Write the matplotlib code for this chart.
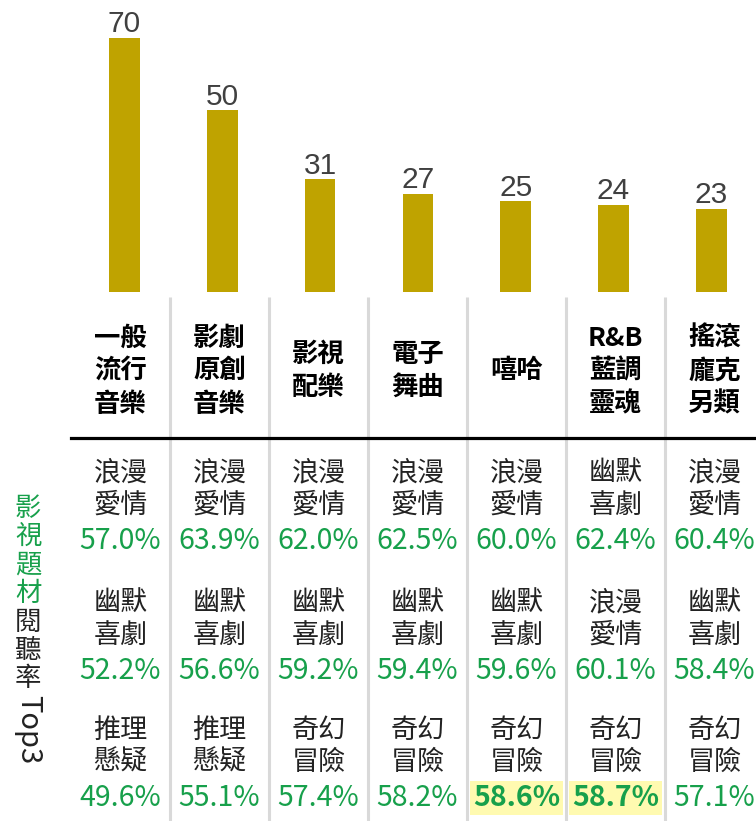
import numpy as np
import matplotlib
matplotlib.use("Agg")
import matplotlib.pyplot as plt

plt.rcParams['font.family'] = ['Noto Sans CJK TC', 'DejaVu Sans']

# ================== DATA ==================
categories = ["一般\n流行\n音樂", "影劇\n原創\n音樂", "影視\n配樂", "電子\n舞曲",
              "嘻哈", "R&B\n藍調\n靈魂", "搖滾\n龐克\n另類"]
counts = [70, 50, 31, 27, 25, 24, 23]

top1_genre = ["浪漫\n愛情", "浪漫\n愛情", "浪漫\n愛情", "浪漫\n愛情", "浪漫\n愛情", "幽默\n喜劇", "浪漫\n愛情"]
top1_rate = [57.0, 63.9, 62.0, 62.5, 60.0, 62.4, 60.4]
top2_genre = ["幽默\n喜劇", "幽默\n喜劇", "幽默\n喜劇", "幽默\n喜劇", "幽默\n喜劇", "浪漫\n愛情", "幽默\n喜劇"]
top2_rate = [52.2, 56.6, 59.2, 59.4, 59.6, 60.1, 58.4]
top3_genre = ["推理\n懸疑", "推理\n懸疑", "奇幻\n冒險", "奇幻\n冒險", "奇幻\n冒險", "奇幻\n冒險", "奇幻\n冒險"]
top3_rate = [49.6, 55.1, 57.4, 58.2, 58.6, 58.7, 57.1]
highlight = [(2, 4), (2, 5)]  # (row, col)

side_green = "影視題材"
side_black = "閱聽率"
side_latin = "Top3"
# ==========================================

BAR = "#bfa300"
GREEN = "#17a04b"
SEP = "#d9d9d9"

W, H = 756, 821
fig = plt.figure(figsize=(W / 100, H / 100), dpi=100)

# overlay in pixel coordinates
ax0 = fig.add_axes([0, 0, 1, 1])
ax0.set_xlim(0, W)
ax0.set_ylim(H, 0)
ax0.axis("off")

x0, pitch = 71, 99
n = len(categories)
bar_bottom = 292
px_per_unit = 3.63

# bar axes (bars sit on a slightly tighter pitch than the table columns)
bx0, bpitch = 75.6, 97.8
axb = fig.add_axes([bx0 / W, (H - bar_bottom) / H, n * bpitch / W, bar_bottom / H])
axb.set_xlim(-0.5, n - 0.5)
axb.set_ylim(0, bar_bottom / px_per_unit)
axb.axis("off")
xs = np.arange(n)
axb.bar(xs, counts, width=0.314, color=BAR)
for x, v in zip(xs, counts):
    axb.annotate(str(v), (x, v), xytext=(0, 4), textcoords="offset points",
                 ha="center", va="baseline", fontsize=21.5, color="#404040",
                 family="Liberation Sans")

# separators and rule
for i in range(1, n):
    ax0.plot([x0 + i * pitch] * 2, [297, H], color=SEP, lw=2.2, solid_capstyle="butt")
ax0.plot([x0, W], [438, 438], color="black", lw=2.3)

centers = [x0 + pitch * (i + 0.5) for i in range(n)]

# category labels
for cx, lab in zip(centers, categories):
    lines = lab.split("\n")
    mid = 371
    for k, ln in enumerate(lines):
        y = mid + (k - (len(lines) - 1) / 2) * 33
        ax0.text(cx, y, ln, ha="center", va="center", fontsize=19,
                 fontweight="bold", color="black")

rows = [(top1_genre, top1_rate), (top2_genre, top2_rate), (top3_genre, top3_rate)]
row_y = [473, 603, 730]
for r, (genres, rates) in enumerate(rows):
    y0 = row_y[r]
    for c, (cx, g, v) in enumerate(zip(centers, genres, rates)):
        for k, ln in enumerate(g.split("\n")):
            ax0.text(cx, y0 + k * 32, ln, ha="center", va="center",
                     fontsize=19.5, color="#222222")
        hl = (r, c) in highlight
        kw = {}
        if hl:
            kw["bbox"] = dict(facecolor="#fffab0", edgecolor="none", pad=2.0)
        ax0.text(cx, y0 + 68, f"{v:.1f}%", ha="center", va="center",
                 fontsize=20.5, color=GREEN,
                 fontweight="bold" if hl else "normal", **kw)

# side label, stacked characters
sy = 508
for ch in side_green:
    ax0.text(28, sy, ch, ha="center", va="center", fontsize=19, color=GREEN)
    sy += 28.5
for ch in side_black:
    ax0.text(28, sy, ch, ha="center", va="center", fontsize=19, color="#222222")
    sy += 28.5
ax0.text(28, sy + 22, side_latin, ha="center", va="center", fontsize=21,
         color="#222222", rotation=270)

fig.savefig("out.png", dpi=100)
